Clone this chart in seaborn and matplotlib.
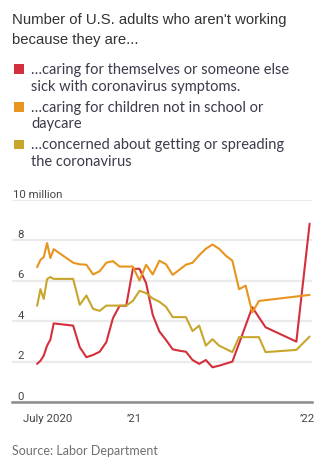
import matplotlib
matplotlib.use("Agg")
import matplotlib.pyplot as plt
import matplotlib.transforms as mtransforms
from matplotlib.patches import Rectangle
import pandas as pd
import seaborn as sns

# Survey periods (weekly in early summer 2020, then every two weeks)
dates = [
    "2020-06-09", "2020-06-16", "2020-06-23", "2020-06-30", "2020-07-07", "2020-07-14",
    "2020-08-24", "2020-09-07", "2020-09-21", "2020-10-05", "2020-10-19", "2020-11-02",
    "2020-11-16", "2020-11-30", "2020-12-14", "2020-12-28", "2021-01-11", "2021-01-25",
    "2021-02-08", "2021-02-22", "2021-03-08", "2021-03-22", "2021-04-05", "2021-04-19",
    "2021-05-03", "2021-05-17", "2021-05-31", "2021-06-14", "2021-06-28", "2021-07-12",
    "2021-07-26", "2021-08-09", "2021-08-23", "2021-09-06", "2021-09-20", "2021-10-04",
    "2021-12-08", "2022-01-05",
]

# Adults not working, millions
sick_care = [
    1.90, 2.05, 2.31, 2.80, 3.10, 3.90,
    3.79, 2.72, 2.23, 2.34, 2.50, 2.97, 4.16, 4.77, 4.77, 6.60, 6.60, 5.89,
    4.32, 3.50, 3.08, 2.62, 2.55, 2.50, 2.09, 1.90, 2.09, 1.73, 1.81, 1.91,
    2.01, 2.90, 3.80, 4.70, 4.20, 3.71,
    3.00, 8.83,
]
child_care = [
    6.68, 7.04, 7.18, 7.87, 7.13, 7.57,
    6.90, 6.82, 6.80, 6.32, 6.48, 6.90, 6.98, 6.71, 6.71, 6.71, 6.02, 6.80,
    6.32, 7.00, 6.82, 6.30, 6.55, 6.80, 6.90, 7.27, 7.59, 7.80, 7.59, 7.25,
    7.00, 5.59, 5.77, 4.44, 5.01, 5.05,
    5.23, 5.31,
]
virus_concern = [
    4.77, 5.59, 5.11, 6.09, 6.19, 6.10,
    6.10, 4.82, 5.28, 4.62, 4.52, 4.78, 4.78, 4.78, 4.78, 5.01, 5.51, 5.40,
    5.13, 4.97, 4.72, 4.21, 4.21, 4.21, 3.52, 3.79, 2.80, 3.12, 2.80, 2.64,
    2.48, 3.22, 3.22, 3.22, 3.22, 2.48,
    2.59, 3.25,
]

series_names = ["sick", "children", "concern"]
series_labels = [
    ["…caring for themselves or someone else", "sick with coronavirus symptoms."],
    ["…caring for children not in school or", "daycare"],
    ["…concerned about getting or spreading", "the coronavirus"],
]
colors = {"sick": "#d32f3c", "children": "#e8951f", "concern": "#c8a62c"}

y_ticks = [0, 2, 4, 6, 8, 10]
y_tick_labels = ["0", "2", "4", "6", "8", "10 million"]
x_tick_dates = ["2020-07-01", "2021-01-01", "2022-01-01"]
x_tick_labels = ["July 2020", "’21", "’22"]

long = pd.DataFrame({
    "date": pd.to_datetime(dates * 3),
    "value": sick_care + child_care + virus_concern,
    "series": [s for s in series_names for _ in dates],
})

sns.set_theme(style="white")
plt.rcParams["font.family"] = ["Lato", "DejaVu Sans"]

W, H = 323, 473
fig = plt.figure(figsize=(W / 100, H / 100), dpi=100)
fig.patch.set_facecolor("white")

def fx(px):
    return px / W

def fy(py):
    return 1 - py / H

# Plot area
ax = fig.add_axes([fx(12), fy(402.3), fx(300), (402.3 - 200) / H])
sns.lineplot(
    data=long, x="date", y="value", hue="series", hue_order=series_names,
    palette=colors, legend=False, ax=ax, linewidth=1.5, estimator=None,
    sort=False,
)
for ln in ax.get_lines():
    ln.set_solid_joinstyle("round")
    ln.set_zorder(3)

ax.set_xlim(pd.Timestamp("2020-04-17"), pd.Timestamp("2022-01-10"))
ax.set_ylim(0, 10)
ax.set_xlabel("")
ax.set_ylabel("")
ax.set_facecolor("white")

ax.set_yticks(y_ticks)
ax.yaxis.grid(True, color="#ebebeb", linewidth=1.6)
ax.xaxis.grid(False)
ax.set_axisbelow(True)
ax.tick_params(axis="y", length=0, labelleft=False)

for side in ["left", "right", "top"]:
    ax.spines[side].set_visible(False)
ax.spines["bottom"].set_color("#8c8c8c")
ax.spines["bottom"].set_linewidth(1.8)
ax.spines["bottom"].set_zorder(4)

# y labels sit just above their gridlines
trans = mtransforms.blended_transform_factory(ax.transAxes, ax.transData)
trans = mtransforms.offset_copy(trans, fig=fig, y=2.5, units="dots")
for v, lab in zip(y_ticks, y_tick_labels):
    if v == 10:
        ax.text(fx(1) * W / 300, v, lab, transform=trans, ha="left",
                va="baseline", fontsize=8.2, color="#454545", family=["Roboto", "DejaVu Sans"])
    else:
        ax.text(12 / 300, v, lab, transform=trans, ha="right",
                va="baseline", fontsize=8.2, color="#454545", family=["Roboto", "DejaVu Sans"])

# Month ticks
minor = pd.date_range("2020-08-01", "2021-12-01", freq="MS")
ax.set_xticks(pd.to_datetime(minor), minor=True)
ax.set_xticks(pd.to_datetime(x_tick_dates))
ax.set_xticklabels(x_tick_labels)
ax.tick_params(axis="x", which="major", length=4.6, width=1, color="#555555",
               pad=4.0, labelsize=8.2, labelcolor="#454545", direction="out")
ax.tick_params(axis="x", which="minor", length=2.2, width=1, color="#555555",
               direction="out")
for lab in ax.get_xticklabels():
    lab.set_family(["Roboto", "DejaVu Sans"])
ax.xaxis.get_major_ticks()[0].tick1line.set_markersize(2.2)

# Title
fig.text(fx(12.5), fy(24), "Number of U.S. adults who aren't working",
         fontsize=10.7, color="#333333", family=["Liberation Sans", "DejaVu Sans"],
         ha="left", va="baseline")
fig.text(fx(12.5), fy(44), "because they are...",
         fontsize=10.7, color="#333333", family=["Liberation Sans", "DejaVu Sans"],
         ha="left", va="baseline")

# Legend
baselines = [(74, 90.7), (111.7, 128.3), (149.3, 166)]
for name, lines, (b1, b2) in zip(series_names, series_labels, baselines):
    sq = 9.5
    fig.patches.append(Rectangle((fx(14), fy(b1)), sq / W, sq / H,
                                 transform=fig.transFigure,
                                 facecolor=colors[name], edgecolor="none"))
    fig.text(fx(31), fy(b1), lines[0], fontsize=10.5, color="#3d3a4a",
             ha="left", va="baseline")
    fig.text(fx(31), fy(b2), lines[1], fontsize=10.5, color="#3d3a4a",
             ha="left", va="baseline")

# Source
fig.text(fx(12.5), fy(455), "Source: Labor Department", fontsize=9,
         color="#707070", ha="left", va="baseline")

fig.savefig("out.png", dpi=100, facecolor="white")
